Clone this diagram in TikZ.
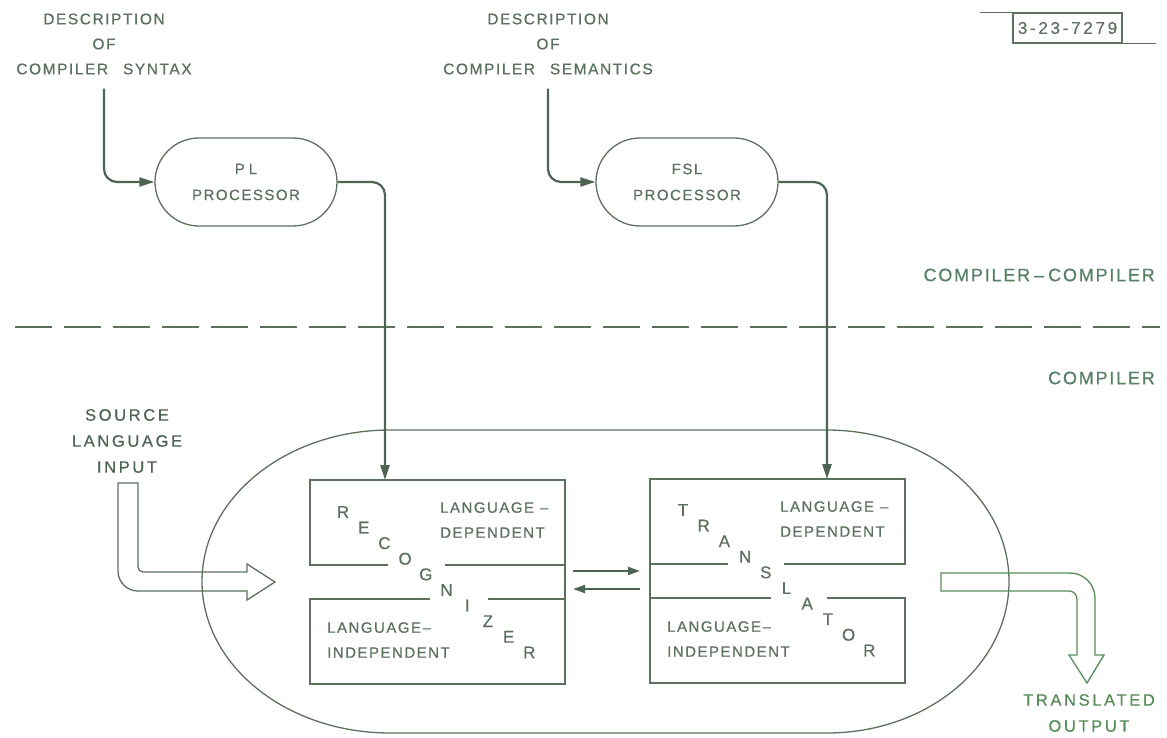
\documentclass[tikz,border=0pt]{standalone}
\usepackage{fontspec}
\usetikzlibrary{arrows.meta,calc,shapes.misc}
\newfontfamily\lettering[LetterSpace=10,FakeBold=0.6]{Liberation Sans}
\newfontfamily\widelettering[LetterSpace=16,FakeBold=0.6]{Liberation Sans}
\definecolor{ink}{RGB}{92,112,94}
\definecolor{inkdark}{RGB}{78,100,82}
\definecolor{inkgreen}{RGB}{88,140,88}
\definecolor{labelgreen}{RGB}{88,128,100}
\tikzset{
  thinline/.style={draw=ink, line width=1.3pt},
  flow/.style={draw=inkdark, line width=2.2pt, rounded corners=13pt, -{Triangle[length=15pt,width=9pt]}},
  twoway/.style={draw=inkdark, line width=2pt, -{Triangle[length=12pt,width=8pt]}},
  caption/.style={inner sep=0pt, text=ink, align=center, font=\lettering\fontsize{15.5}{25}\selectfont},
  proc/.style={rounded rectangle, draw=ink, line width=1.3pt, minimum width=182pt, minimum height=88pt,
    inner sep=0pt, text=ink, align=center, font=\lettering\fontsize{15}{26}\selectfont},
  tagbox/.style={draw=ink, line width=1.3pt, minimum width=109pt, minimum height=30pt, inner sep=0pt,
    text=ink, font=\widelettering\fontsize{17}{20}\selectfont},
  section/.style={inner sep=0pt, text=labelgreen, font=\lettering\fontsize{18}{22}\selectfont},
  blockbox/.style={rectangle, minimum width=255pt, minimum height=204pt, inner sep=0pt, outer sep=0pt},
  boxtext/.style={inner sep=0pt, text=ink, align=left, font=\lettering\fontsize{15}{25}\selectfont},
  slantletter/.style={inner sep=0pt, text=ink, font=\lettering\fontsize{17}{20}\selectfont},
  io/.style={inner sep=0pt, align=center, font=\widelettering\fontsize{16.5}{26}\selectfont}
}
\begin{document}
\begin{tikzpicture}[x=1pt,y=1pt]
    \useasboundingbox (0,0) rectangle (1167,-738);

    \def\compileroval{(390,-430) -- (827,-430) arc[start angle=90,end angle=-90,x radius=182,y radius=151.5]
        -- (390,-733) arc[start angle=270,end angle=90,x radius=188,y radius=151.5] -- cycle}

    %descriptions and processors:
    \node[caption] (desc1) at (104,-44) {DESCRIPTION\\OF\\COMPILER\hspace{9pt} SYNTAX};
    \node[caption] (desc2) at (548,-44) {DESCRIPTION\\OF\\COMPILER\hspace{9pt} SEMANTICS};
    \node[proc] (pl) at (246,-182) {P\hspace{4pt}L\\PROCESSOR};
    \node[proc] (fsl) at (687,-182) {FSL\\PROCESSOR};

    %figure number:
    \node[tagbox] (tag) at (1067.5,-28) {3-23-7279};
    \draw[thinline] (tag.north west) -- ++(-32,0);
    \draw[thinline] (tag.south east) -- ++(33,0);

    %the two halves:
    \node[section, anchor=east] (cc) at (1155,-275) {COMPILER\hspace{4pt}\textendash\hspace{4pt}COMPILER};
    \node[section, anchor=east] (cmp) at (1155,-378) {COMPILER};
    \draw[ink, line width=1.6pt, dash pattern=on 37pt off 12pt] (15,-327) -- (1160,-327);

    %draw compiler:
    \draw[thinline] \compileroval;
    \node[blockbox] (rec) at (437.5,-582) {};
    \node[blockbox] (tra) at (777.5,-581) {};

    \draw[thinline] ($(rec.north west)+(78,-85)$) -- ++(-78,0) |- (rec.north east) |- (rec.south west) -- ++(0,85) -- ++(120,0);
    \draw[thinline] ($(rec.north east)+(0,-85)$) -- ++(-120,0);
    \draw[thinline] ($(rec.south east)+(0,85)$) -- ++(-77,0);

    \draw[thinline] ($(tra.north east)+(-121,-85)$) -- ++(121,0) |- (tra.north west) |- (tra.south east) -- ++(0,85) -- ++(-78,0);
    \draw[thinline] ($(tra.north west)+(0,-85)$) -- ++(78,0);
    \draw[thinline] ($(tra.south west)+(0,85)$) -- ++(121,0);

    \foreach \c [count=\i from 0] in {R,E,C,O,G,N,I,Z,E,R}
        \node[slantletter] (rl\i) at ($(rec.north west)+({33+20.7*\i},{-32-15.6*\i})$) {\c};
    \foreach \c [count=\i from 0] in {T,R,A,N,S,L,A,T,O,R}
        \node[slantletter] (tl\i) at ($(tra.north west)+({33+20.7*\i},{-31-15.6*\i})$) {\c};

    \node[boxtext, anchor=west] (recdep) at ($(rec.north west)+(130,-40)$) {LANGUAGE\hspace{6pt}\textendash\\DEPENDENT};
    \node[boxtext, anchor=west] (recind) at ($(rec.north west)+(17,-160)$) {LANGUAGE\textendash\\INDEPENDENT};
    \node[boxtext, anchor=west] (tradep) at ($(tra.north west)+(130,-40)$) {LANGUAGE\hspace{6pt}\textendash\\DEPENDENT};
    \node[boxtext, anchor=west] (traind) at ($(tra.north west)+(17,-160)$) {LANGUAGE\textendash\\INDEPENDENT};

    %input and output:
    \node[io, text=inkdark] (src) at (127,-441) {SOURCE\\LANGUAGE\\INPUT};
    \node[io, text=inkgreen] (out) at (1089,-713) {TRANSLATED\\OUTPUT};
    \draw[thinline] (118,-483) -- (118,-571) arc[start angle=180,end angle=270,radius=20] -- (247,-591) -- (247,-600)
        -- (275,-582) -- (247,-564) -- (247,-572) -- (143,-572) arc[start angle=270,end angle=180,radius=5] -- (138,-483) -- cycle;
    \draw[thinline, draw=inkgreen] (941,-573) -- (1070,-573) arc[start angle=90,end angle=0,radius=25] -- (1095,-655) -- (1104,-655)
        -- (1087,-683) -- (1069,-655) -- (1077,-655) -- (1077,-599) arc[start angle=0,end angle=90,radius=8] -- (941,-591) -- cycle;

    %connectors:
    \draw[flow] ([yshift=-14pt]desc1.south) |- (pl.west);
    \draw[flow] (pl.east) -| ([xshift=75pt]rec.north west);
    \draw[flow] ([yshift=-14pt]desc2.south) |- (fsl.west);
    \draw[flow] (fsl.east) -| ([xshift=177pt]tra.north west);
    \draw[twoway] ([xshift=8pt,yshift=11pt]rec.east) -- ([xshift=-10pt,yshift=10pt]tra.west);
    \draw[twoway] ([xshift=-10pt,yshift=-8pt]tra.west) -- ([xshift=8pt,yshift=-7pt]rec.east);

\end{tikzpicture}
\end{document}
